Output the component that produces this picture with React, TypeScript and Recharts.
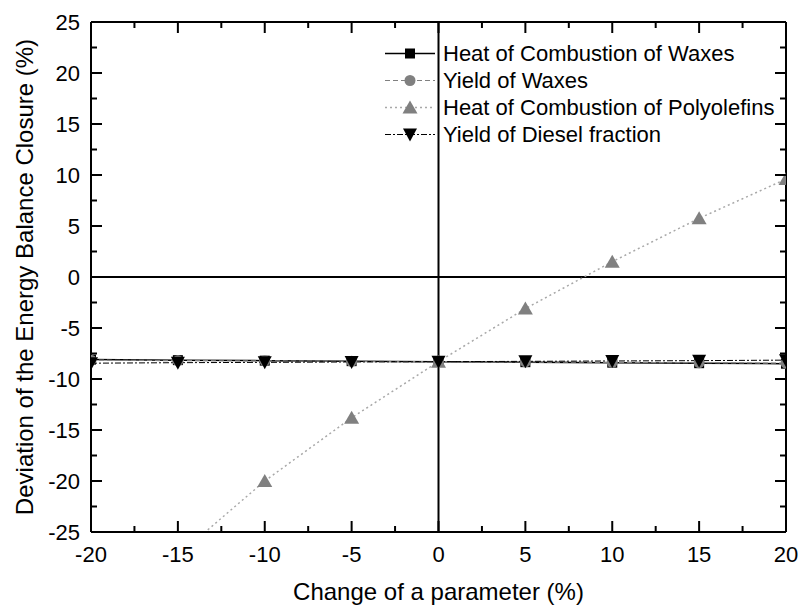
import React from 'react';
import { LineChart, Line, XAxis, YAxis, ReferenceLine, Legend } from 'recharts';

const changes = [-20, -15, -10, -5, 0, 5, 10, 15, 20];
const heatWaxes = [-8.1, -8.15, -8.2, -8.25, -8.3, -8.35, -8.4, -8.45, -8.5];
const yieldWaxes = [-8.15, -8.2, -8.22, -8.27, -8.3, -8.33, -8.37, -8.4, -8.45];
const heatPolyolefins = [-35.5, -27.3, -20.0, -13.8, -8.3, -3.1, 1.5, 5.75, 9.6];
const yieldDiesel = [-8.45, -8.4, -8.37, -8.33, -8.3, -8.27, -8.23, -8.2, -8.15];

const seriesNames = [
  'Heat of Combustion of Waxes',
  'Yield of Waxes',
  'Heat of Combustion of Polyolefins',
  'Yield of Diesel fraction',
];

const xTicks = [-20, -17.5, -15, -12.5, -10, -7.5, -5, -2.5, 0, 2.5, 5, 7.5, 10, 12.5, 15, 17.5, 20];
const yTicks = [-25, -22.5, -20, -17.5, -15, -12.5, -10, -7.5, -5, -2.5, 0, 2.5, 5, 7.5, 10, 12.5, 15, 17.5, 20, 22.5, 25];
const xLabel = 'Change of a parameter (%)';
const yLabel = 'Deviation of the Energy Balance Closure (%)';

const data = changes.map((x, i) => ({
  x,
  heatWaxes: heatWaxes[i],
  yieldWaxes: yieldWaxes[i],
  heatPolyolefins: heatPolyolefins[i],
  yieldDiesel: yieldDiesel[i],
}));

const FONT = '"Liberation Sans", Arial, Helvetica, sans-serif';
const GRAY = '#808080';
const LIGHT = '#a8a8a8';

const isMajor = (v: number) => Math.abs(v % 5) < 1e-9;

const makeTick = (side: 'bottom' | 'left' | 'top' | 'right') => (props: any) => {
  const { x, y, payload } = props;
  const v = payload.value;
  const major = isMajor(v);
  const len = major ? 11 : 6;
  const ls = { stroke: '#000', strokeWidth: 2 };
  let line: any = null;
  let text: any = null;
  if (side === 'bottom') {
    line = <line x1={x} x2={x} y1={y} y2={y - len} {...ls} />;
    if (major)
      text = (
        <text x={x} y={y + 30} textAnchor="middle" fontSize={22} fontFamily={FONT} fill="#000">
          {v}
        </text>
      );
  } else if (side === 'top') {
    line = <line x1={x} x2={x} y1={y} y2={y + len} {...ls} />;
  } else if (side === 'left') {
    line = <line x1={x} x2={x + len} y1={y} y2={y} {...ls} />;
    if (major)
      text = (
        <text x={x - 11} y={y + 8} textAnchor="end" fontSize={22} fontFamily={FONT} fill="#000">
          {v}
        </text>
      );
  } else {
    line = <line x1={x} x2={x - len} y1={y} y2={y} {...ls} />;
  }
  return (
    <g>
      {line}
      {text}
    </g>
  );
};

const BottomTick = makeTick('bottom');
const TopTick = makeTick('top');
const LeftTick = makeTick('left');
const RightTick = makeTick('right');

const squareDot = (p: any) => (
  <rect key={`sq-${p.index}`} x={p.cx - 5} y={p.cy - 5} width={10} height={10} fill="#000" />
);
const circleDot = (p: any) => (
  <circle key={`ci-${p.index}`} cx={p.cx} cy={p.cy} r={5.5} fill={GRAY} />
);
const upDot = (p: any) => (
  <polygon
    key={`up-${p.index}`}
    points={`${p.cx - 7.5},${p.cy + 6} ${p.cx + 7.5},${p.cy + 6} ${p.cx},${p.cy - 7}`}
    fill={GRAY}
  />
);
const downDot = (p: any) => (
  <polygon
    key={`dn-${p.index}`}
    points={`${p.cx - 7},${p.cy - 6} ${p.cx + 7},${p.cy - 6} ${p.cx},${p.cy + 7}`}
    fill="#000"
  />
);

const legendItems = [
  { name: seriesNames[0], stroke: '#000', dash: undefined as string | undefined, width: 1.5, marker: 'square' },
  { name: seriesNames[1], stroke: GRAY, dash: '5 3', width: 1.2, marker: 'circle' },
  { name: seriesNames[2], stroke: LIGHT, dash: '2 3', width: 1.5, marker: 'up' },
  { name: seriesNames[3], stroke: '#000', dash: '6 2 2 2', width: 1, marker: 'down' },
];

const legendMarker = (m: string) => {
  const cx = 27;
  const cy = 13.5;
  if (m === 'square') return <rect x={cx - 5} y={cy - 5} width={10} height={10} fill="#000" />;
  if (m === 'circle') return <circle cx={cx} cy={cy} r={5.5} fill={GRAY} />;
  if (m === 'up')
    return <polygon points={`${cx - 7.5},${cy + 6} ${cx + 7.5},${cy + 6} ${cx},${cy - 7}`} fill={GRAY} />;
  return <polygon points={`${cx - 7},${cy - 6} ${cx + 7},${cy - 6} ${cx},${cy + 7}`} fill="#000" />;
};

const renderLegend = () => (
  <div style={{ fontFamily: FONT, fontSize: 22, color: '#000' }}>
    {legendItems.map((it) => (
      <div key={it.name} style={{ display: 'flex', alignItems: 'center', height: 27, whiteSpace: 'nowrap' }}>
        <svg width={56} height={27} style={{ display: 'block' }}>
          <line x1={2} x2={52} y1={13.5} y2={13.5} stroke={it.stroke} strokeWidth={it.width} strokeDasharray={it.dash} />
          {legendMarker(it.marker)}
        </svg>
        <span style={{ marginLeft: 4, lineHeight: '27px' }}>{it.name}</span>
      </div>
    ))}
  </div>
);

const XTitle = (p: any) => {
  const vb = p.viewBox;
  return (
    <text x={vb.x + vb.width / 2} y={vb.y + vb.height - 6} textAnchor="middle" fontSize={24} fontFamily={FONT} fill="#000">
      {xLabel}
    </text>
  );
};

const YTitle = (p: any) => {
  const vb = p.viewBox;
  const x = vb.x + 33;
  const y = vb.y + vb.height / 2;
  return (
    <text x={x} y={y} transform={`rotate(-90, ${x}, ${y})`} textAnchor="middle" fontSize={24} fontFamily={FONT} fill="#000">
      {yLabel}
    </text>
  );
};

export default function App() {
  return (
    <div style={{ position: 'absolute', left: 0, top: 0, width: 800, height: 606, background: '#fff' }}>
      <LineChart width={800} height={606} data={data} margin={{ top: 21, right: 13, bottom: 0, left: 0 }}>
        <XAxis
          dataKey="x"
          type="number"
          domain={[-20, 20]}
          ticks={xTicks}
          interval={0}
          tickSize={0}
          tickMargin={0}
          tick={BottomTick}
          tickLine={false}
          height={74}
          axisLine={{ stroke: '#000', strokeWidth: 2 }}
          allowDataOverflow
          label={{ content: XTitle } as any}
        />
        <XAxis
          xAxisId="top"
          orientation="top"
          dataKey="x"
          type="number"
          domain={[-20, 20]}
          ticks={xTicks}
          interval={0}
          tickSize={0}
          tickMargin={0}
          tick={TopTick}
          tickLine={false}
          height={1}
          axisLine={{ stroke: '#000', strokeWidth: 2 }}
          allowDataOverflow
        />
        <YAxis
          type="number"
          domain={[-25, 25]}
          ticks={yTicks}
          interval={0}
          tickSize={0}
          tickMargin={0}
          tick={LeftTick}
          tickLine={false}
          width={91}
          axisLine={{ stroke: '#000', strokeWidth: 2 }}
          allowDataOverflow
          label={{ content: YTitle } as any}
        />
        <YAxis
          yAxisId="right"
          orientation="right"
          type="number"
          domain={[-25, 25]}
          ticks={yTicks}
          interval={0}
          tickSize={0}
          tickMargin={0}
          tick={RightTick}
          tickLine={false}
          width={1}
          axisLine={{ stroke: '#000', strokeWidth: 2 }}
          allowDataOverflow
        />
        <ReferenceLine y={0} stroke="#000" strokeWidth={2} />
        <ReferenceLine x={0} stroke="#000" strokeWidth={2} />
        <Line
          xAxisId="top"
          yAxisId="right"
          dataKey="heatPolyolefins"
          stroke="none"
          dot={false}
          legendType="none"
          isAnimationActive={false}
        />
        <Line
          dataKey="heatWaxes"
          name={seriesNames[0]}
          stroke="#000"
          strokeWidth={1.5}
          dot={squareDot}
          activeDot={false}
          isAnimationActive={false}
        />
        <Line
          dataKey="yieldWaxes"
          name={seriesNames[1]}
          stroke={GRAY}
          strokeWidth={1.2}
          strokeDasharray="5 3"
          dot={circleDot}
          activeDot={false}
          isAnimationActive={false}
        />
        <Line
          dataKey="heatPolyolefins"
          name={seriesNames[2]}
          stroke={LIGHT}
          strokeWidth={1.5}
          strokeDasharray="2 3"
          dot={upDot}
          activeDot={false}
          isAnimationActive={false}
        />
        <Line
          dataKey="yieldDiesel"
          name={seriesNames[3]}
          stroke="#000"
          strokeWidth={1}
          strokeDasharray="6 2 2 2"
          dot={downDot}
          activeDot={false}
          isAnimationActive={false}
        />
        <Legend
          layout="vertical"
          align="center"
          verticalAlign="middle"
          content={renderLegend}
          wrapperStyle={{ left: 383, top: 40, width: 415, height: 110 }}
        />
      </LineChart>
    </div>
  );
}
